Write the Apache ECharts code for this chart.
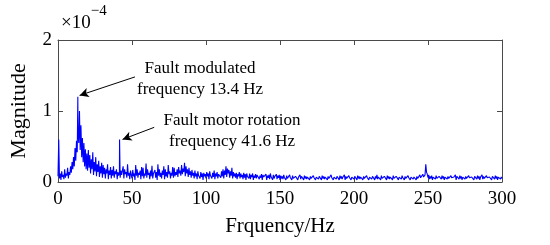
<!DOCTYPE html>
<html>
<head>
<meta charset="utf-8">
<script src="https://cdn.jsdelivr.net/npm/echarts@6/dist/echarts.min.js"></script>
<style>
  html, body { margin: 0; padding: 0; background: #fff; }
  #chart { width: 550px; height: 245px; }
</style>
</head>
<body>
<div id="chart"></div>
<script>
// spectrum magnitude (x1e-4), every 0.5 Hz from 0 to 300 Hz
var freqStep = 0.5;
var mags = [
  0.08,0.60,0.05,0.12,0.03,0.15,0.07,0.10,0.04,0.18,0.06,0.12,0.09,0.20,0.05,0.14,0.10,0.22,0.13,0.28,
  0.18,0.35,0.22,0.48,0.30,0.58,0.42,0.75,0.55,1.00,0.45,0.80,0.35,0.62,0.28,0.55,0.22,0.46,0.18,0.40,
  0.16,0.45,0.20,0.38,0.12,0.32,0.18,0.42,0.10,0.28,0.15,0.35,0.08,0.25,0.14,0.30,0.07,0.22,0.12,0.27,
  0.06,0.24,0.11,0.20,0.05,0.18,0.12,0.25,0.04,0.16,0.10,0.21,0.05,0.17,0.09,0.22,0.06,0.15,0.11,0.18,
  0.04,0.14,0.09,0.13,0.06,0.16,0.10,0.08,0.22,0.05,0.18,0.11,0.14,0.06,0.25,0.09,0.13,0.04,0.16,0.10,
  0.05,0.17,0.08,0.12,0.03,0.24,0.09,0.18,0.06,0.13,0.10,0.16,0.04,0.21,0.08,0.20,0.05,0.12,0.09,0.26,
  0.06,0.18,0.10,0.13,0.04,0.16,0.08,0.23,0.05,0.12,0.11,0.17,0.06,0.14,0.03,0.25,0.09,0.18,0.07,0.13,
  0.05,0.16,0.10,0.22,0.04,0.18,0.08,0.14,0.06,0.24,0.11,0.15,0.05,0.13,0.09,0.21,0.06,0.20,0.08,0.14,
  0.10,0.18,0.07,0.21,0.12,0.16,0.09,0.24,0.11,0.19,0.14,0.27,0.08,0.22,0.12,0.18,0.07,0.20,0.10,0.15,
  0.06,0.17,0.09,0.13,0.05,0.16,0.08,0.12,0.04,0.15,0.09,0.11,0.05,0.14,0.07,0.12,0.03,0.13,0.08,0.11,
  0.05,0.14,0.08,0.12,0.04,0.15,0.09,0.11,0.05,0.13,0.07,0.16,0.04,0.12,0.08,0.14,0.05,0.11,0.09,0.13,
  0.06,0.15,0.08,0.18,0.05,0.16,0.10,0.22,0.07,0.19,0.12,0.17,0.06,0.15,0.09,0.20,0.05,0.14,0.08,0.12,
  0.06,0.13,0.04,0.11,0.08,0.14,0.05,0.12,0.07,0.10,0.04,0.13,0.06,0.11,0.03,0.12,0.08,0.10,0.05,0.12,
  0.04,0.10,0.07,0.12,0.03,0.09,0.06,0.11,0.05,0.10,0.08,0.12,0.04,0.09,0.06,0.11,0.03,0.10,0.07,0.09,
  0.05,0.11,0.03,0.09,0.06,0.10,0.04,0.12,0.07,0.09,0.03,0.10,0.05,0.08,0.06,0.11,0.04,0.09,0.06,0.10,
  0.03,0.09,0.05,0.08,0.04,0.10,0.06,0.08,0.03,0.09,0.05,0.07,0.04,0.10,0.06,0.08,0.03,0.09,0.05,0.07,
  0.04,0.08,0.06,0.09,0.03,0.07,0.05,0.10,0.04,0.08,0.06,0.07,0.03,0.09,0.05,0.08,0.04,0.07,0.06,0.09,
  0.03,0.08,0.05,0.07,0.04,0.09,0.06,0.08,0.03,0.07,0.05,0.09,0.04,0.08,0.06,0.07,0.03,0.09,0.05,0.08,
  0.04,0.07,0.06,0.09,0.03,0.08,0.05,0.07,0.04,0.10,0.06,0.08,0.03,0.07,0.05,0.09,0.04,0.08,0.06,0.07,
  0.03,0.09,0.05,0.08,0.04,0.07,0.06,0.10,0.03,0.08,0.05,0.07,0.04,0.09,0.06,0.08,0.03,0.07,0.05,0.09,
  0.04,0.08,0.06,0.07,0.03,0.09,0.05,0.08,0.04,0.07,0.06,0.09,0.03,0.08,0.05,0.07,0.04,0.09,0.06,0.08,
  0.03,0.07,0.05,0.09,0.04,0.08,0.06,0.07,0.03,0.08,0.05,0.10,0.04,0.07,0.06,0.08,0.03,0.09,0.05,0.07,
  0.04,0.08,0.06,0.07,0.03,0.09,0.05,0.08,0.04,0.07,0.06,0.08,0.03,0.09,0.05,0.07,0.04,0.08,0.06,0.09,
  0.03,0.07,0.05,0.08,0.04,0.09,0.06,0.07,0.03,0.08,0.05,0.07,0.04,0.09,0.06,0.08,0.03,0.07,0.05,0.08,
  0.04,0.07,0.06,0.09,0.03,0.08,0.05,0.07,0.04,0.10,0.06,0.08,0.05,0.11,0.07,0.09,0.10,0.25,0.14,0.11,
  0.06,0.10,0.04,0.08,0.05,0.09,0.03,0.07,0.06,0.08,0.04,0.09,0.05,0.07,0.03,0.08,0.06,0.07,0.04,0.09,
  0.05,0.08,0.03,0.07,0.06,0.09,0.04,0.08,0.05,0.07,0.03,0.09,0.06,0.08,0.04,0.07,0.05,0.10,0.03,0.08,
  0.06,0.07,0.04,0.09,0.05,0.08,0.03,0.07,0.06,0.09,0.04,0.08,0.05,0.07,0.03,0.09,0.06,0.08,0.04,0.07,
  0.05,0.09,0.03,0.08,0.06,0.07,0.04,0.09,0.05,0.08,0.03,0.07,0.06,0.10,0.04,0.08,0.05,0.07,0.03,0.09,
  0.06,0.08,0.04,0.07,0.05,0.09,0.03,0.08,0.06,0.07,0.04,0.09,0.05,0.08,0.03,0.07,0.06,0.08,0.04,0.07,
  0.05
];
// the two labelled spectral lines [Hz, magnitude]
var peakFreqs = [13.4, 41.6];
var peakMags = [1.20, 0.60];

var xTicks = [0, 50, 100, 150, 200, 250, 300];
var yTicks = [0, 1, 2];

var data = mags.map(function (v, i) { return [i * freqStep, v]; });
peakFreqs.forEach(function (f, i) { data.push([f, peakMags[i]]); });
data.sort(function (a, b) { return a[0] - b[0]; });

var font = '"Liberation Serif", "Times New Roman", serif';
var axisColor = '#4a4a4a';

var chart = echarts.init(document.getElementById('chart'), null, { renderer: 'canvas' });

function boxAxis(extra) {
  return Object.assign({
    type: 'value',
    axisLine: { show: true, onZero: false, lineStyle: { color: axisColor, width: 1 } },
    axisTick: { show: true, inside: true, length: 5, lineStyle: { color: axisColor } },
    splitLine: { show: false },
    axisLabel: { show: false }
  }, extra);
}

var option = {
  animation: false,
  grid: { left: 55, right: 48, top: 40, bottom: 63 },
  xAxis: [
    boxAxis({
      min: xTicks[0], max: xTicks[xTicks.length - 1], interval: 50,
      position: 'bottom',
      name: 'Frquency/Hz', nameLocation: 'middle', nameGap: 34,
      nameTextStyle: { fontFamily: font, fontSize: 21, color: '#000' },
      axisLabel: { show: true, fontFamily: font, fontSize: 19, color: '#000', margin: 8 }
    }),
    boxAxis({ min: 0, max: 300, interval: 50, position: 'top' })
  ],
  yAxis: [
    boxAxis({
      min: yTicks[0], max: yTicks[yTicks.length - 1], interval: 1,
      position: 'left',
      name: 'Magnitude', nameLocation: 'middle', nameGap: 28,
      nameTextStyle: { fontFamily: font, fontSize: 22, color: '#000' },
      axisLabel: { show: true, fontFamily: font, fontSize: 19, color: '#000', margin: 6 }
    }),
    boxAxis({ min: 0, max: 2, interval: 1, position: 'right' })
  ],
  series: [{
    type: 'line',
    data: data,
    showSymbol: false,
    lineStyle: { color: '#0000ff', width: 1.1 },
    markLine: {
      silent: true,
      symbol: ['none', 'arrow'],
      symbolSize: [7, 9],
      label: { show: false },
      lineStyle: { color: '#000', width: 1, type: 'solid' },
      data: [
        [{ coord: [52, 1.48] }, { coord: [peakFreqs[0] + 1.2, peakMags[0] + 0.02] }],
        [{ coord: [65, 0.77] }, { coord: [peakFreqs[1] + 2, peakMags[1]] }]
      ]
    }
  }],
  graphic: [
    {
      type: 'text', left: 61, top: 4,
      style: {
        text: '{a|×10}{b|−4}',
        rich: {
          a: { fontFamily: font, fontSize: 19, fill: '#000', padding: [10, 0, 0, 0] },
          b: { fontFamily: font, fontSize: 15, fill: '#000', verticalAlign: 'top' }
        }
      }
    },
    {
      type: 'text', x: 200, y: 58,
      style: {
        text: 'Fault modulated\nfrequency 13.4 Hz',
        fontFamily: font, fontSize: 17, fill: '#000',
        align: 'center', lineHeight: 21
      }
    },
    {
      type: 'text', x: 232, y: 110,
      style: {
        text: 'Fault motor rotation\nfrequency 41.6 Hz',
        fontFamily: font, fontSize: 17, fill: '#000',
        align: 'center', lineHeight: 21
      }
    }
  ]
};

chart.setOption(option);
</script>
</body>
</html>
